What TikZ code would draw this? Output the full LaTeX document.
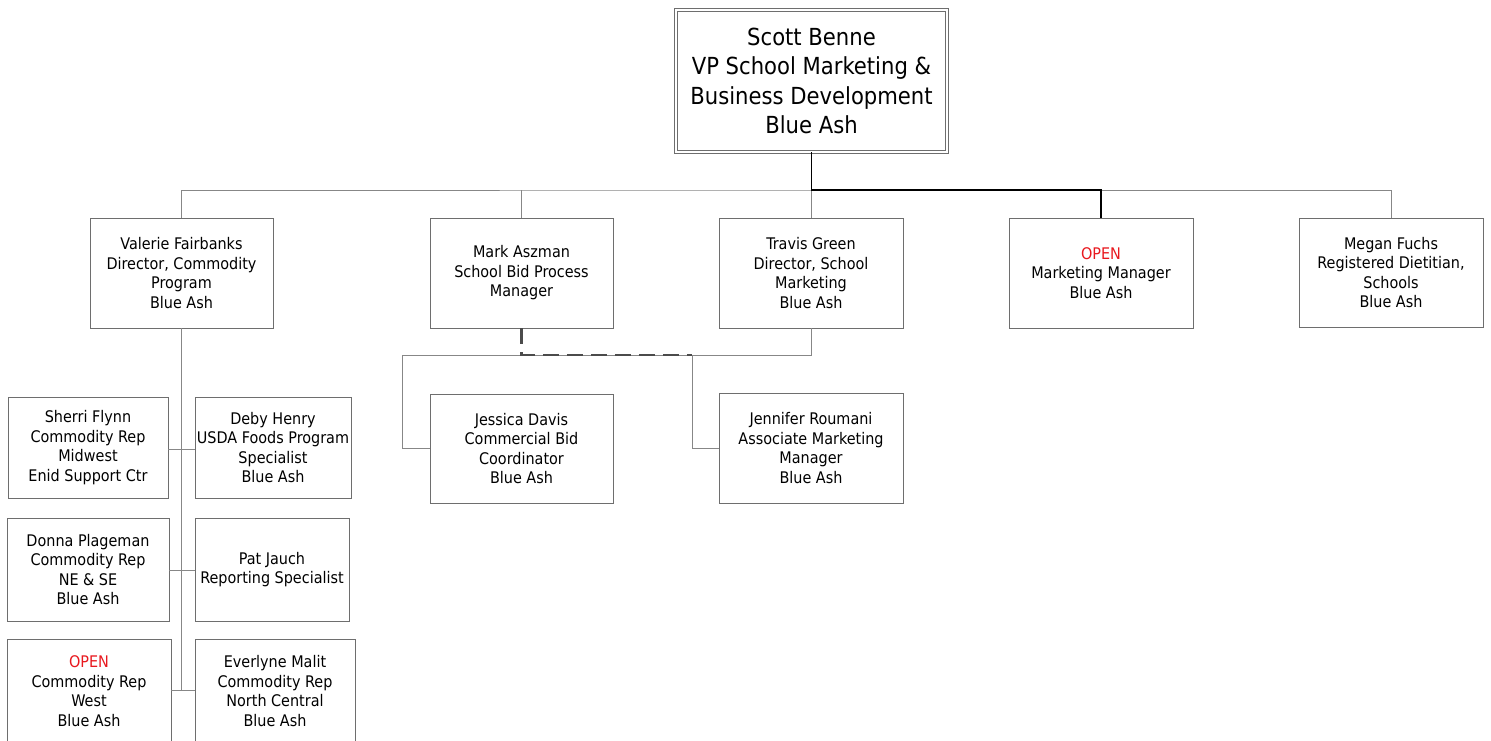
\documentclass[tikz,border=0pt]{standalone}
\usepackage{fontspec}
\setmainfont{DejaVu Sans Condensed}
\definecolor{boxgray}{RGB}{110,110,110}
\definecolor{linegray}{RGB}{135,135,135}
\definecolor{dashgray}{RGB}{75,75,75}
\definecolor{openred}{RGB}{232,24,30}

\begin{document}
\begin{tikzpicture}[x=1pt,y=-1pt,
    person/.style={draw=boxgray,line width=0.8pt,align=center,inner sep=0pt,
      font=\fontsize{16pt}{19.5pt}\selectfont},
    chief/.style={draw=boxgray,line width=0.8pt,double=white,double distance=2.4pt,
      align=center,inner sep=0pt,minimum width=271pt,minimum height=142pt,
      font=\fontsize{23.5pt}{29.5pt}\selectfont},
    link/.style={draw=linegray,line width=0.8pt},
    bossline/.style={draw=black,line width=1.8pt},
    dotline/.style={draw=dashgray,line width=2.2pt,dash pattern=on 16pt off 8pt}]
               \useasboundingbox (0,0) rectangle (1491,740);
               % top box
               \node [chief] (scott) at (811.5,81) {Scott Benne\\VP School Marketing \&\\Business Development\\Blue Ash};
               % second row
               \node [person,minimum width=183pt,minimum height=110pt] (valerie) at (181.5,273) {Valerie Fairbanks\\Director, Commodity\\Program\\Blue Ash};
               \node [person,minimum width=183pt,minimum height=110pt] (mark) at (521.5,273) {Mark Aszman\\School Bid Process\\Manager};
               \node [person,minimum width=184pt,minimum height=110pt] (travis) at (811,273) {Travis Green\\Director, School\\Marketing\\Blue Ash};
               \node [person,minimum width=184pt,minimum height=110pt] (openmm) at (1101,273) {\textcolor{openred}{OPEN}\\Marketing Manager\\Blue Ash};
               \node [person,minimum width=184pt,minimum height=109pt] (megan) at (1391,272.5) {Megan Fuchs\\Registered Dietitian,\\Schools\\Blue Ash};
               % under travis
               \node [person,minimum width=183pt,minimum height=109pt] (jessica) at (521.5,448.5) {Jessica Davis\\Commercial Bid\\Coordinator\\Blue Ash};
               \node [person,minimum width=184pt,minimum height=110pt] (jennifer) at (811,448) {Jennifer Roumani\\Associate Marketing\\Manager\\Blue Ash};
               % under valerie
               \node [person,minimum width=160pt,minimum height=101pt] (sherri) at (88,447.5) {Sherri Flynn\\Commodity Rep\\Midwest\\Enid Support Ctr};
               \node [person,minimum width=156pt,minimum height=101pt] (deby) at (273,447.5) {Deby Henry\\USDA Foods Program\\Specialist\\Blue Ash};
               \node [person,minimum width=162pt,minimum height=103pt] (donna) at (88,569.5) {Donna Plageman\\Commodity Rep\\NE \& SE\\Blue Ash};
               \node [person,minimum width=154pt,minimum height=103pt] (pat) at (272,569.5) {Pat Jauch\\Reporting Specialist};
               \node [person,minimum width=164pt,minimum height=104pt] (openrep) at (89,691) {\textcolor{openred}{OPEN}\\Commodity Rep\\West\\Blue Ash};
               \node [person,minimum width=160pt,minimum height=104pt] (everlyne) at (275,691) {Everlyne Malit\\Commodity Rep\\North Central\\Blue Ash};
               % bus from top box
               \coordinate (bus) at (811.5,190);
               \draw [link] (valerie.north) |- (bus) -| (megan.north);
               \draw [link] (mark.north) -- (mark.north |- bus);
               \draw [link] (travis.north) -- (travis.north |- bus);
               \draw [bossline] (scott.south) -- (bus) -| (openmm.north);
               % travis down to his staff
               \coordinate (jstem) at (402,355);
               \coordinate (nstem) at (692,355);
               \draw [link] (travis.south) |- (jstem) |- (jessica.west);
               \draw [link] (nstem) |- (jennifer.west);
               \draw [dotline] (mark.south) |- (nstem);
               % valerie down to her staff
               \coordinate (vend) at (181.5,690);
               \draw [link] (valerie.south) -- (vend);
               \draw [link] (sherri.east |- 0,449) -- (deby.west |- 0,449);
               \draw [link] (donna.east |- 0,570) -- (pat.west |- 0,570);
               \draw [link] (openrep.east |- vend) -- (everlyne.west |- vend);
            \end{tikzpicture}
\end{document}
